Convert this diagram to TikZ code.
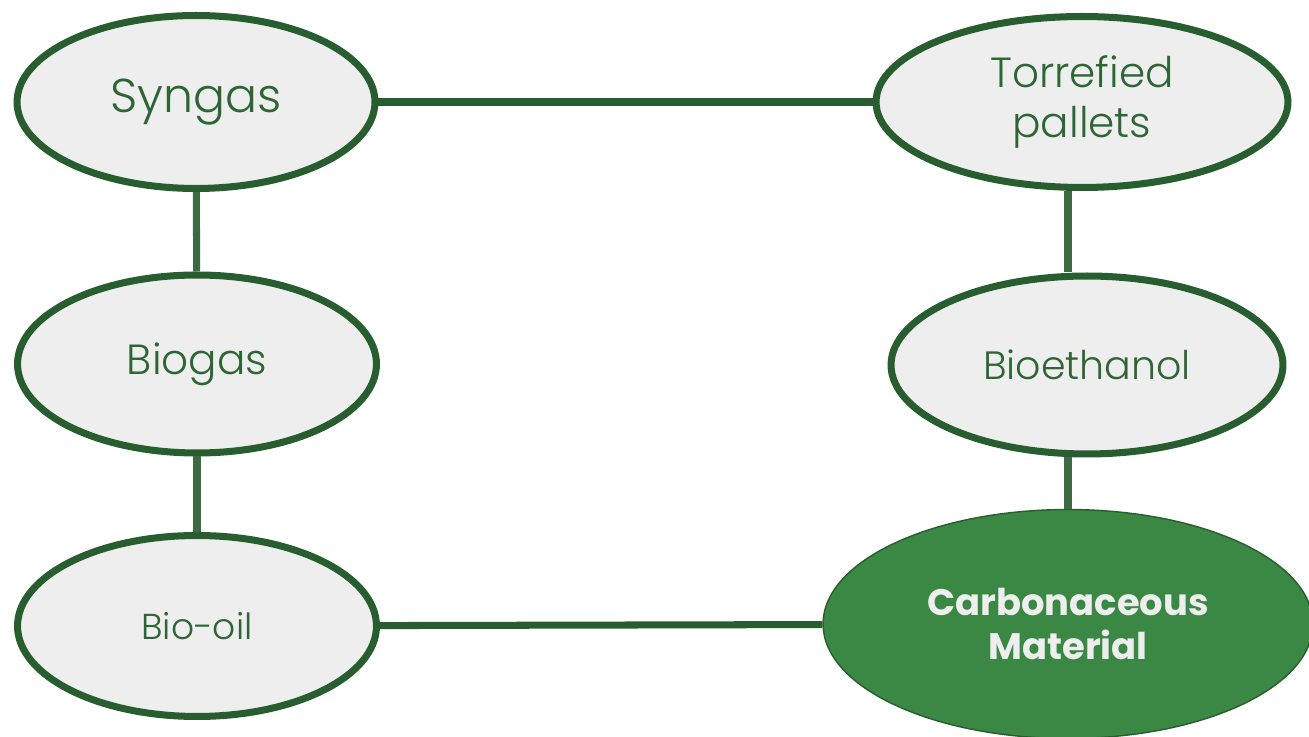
\documentclass[tikz,border=0pt]{standalone}
\usepackage{fontspec}
\setmainfont{Poppins}[UprightFont=* Light, BoldFont=* Bold]
\usetikzlibrary{shapes.geometric}
\definecolor{edgegreen}{HTML}{285E2F}
\definecolor{linkgreen}{HTML}{3C6B43}
\definecolor{textgreen}{HTML}{2D6534}
\definecolor{fillgray}{HTML}{EEEEEE}
\definecolor{boldgreen}{HTML}{3A8843}
\begin{document}
\begin{tikzpicture}[x=0.02cm, y=0.02cm,
    fuel/.style={ellipse, draw=edgegreen, line width=4pt, fill=fillgray,
        text=textgreen, align=center, inner sep=0pt},
    product/.style={ellipse, draw=edgegreen, line width=0.8pt, fill=boldgreen,
        text=fillgray, align=center, inner sep=0pt, font=\fontsize{21}{25}\selectfont\bfseries},
    link/.style={edgegreen, line width=4pt},
    vlink/.style={linkgreen, line width=4pt}]
    \useasboundingbox (0,0) rectangle (1309,737);
    % left column
    \node[fuel, minimum width=7.16cm, minimum height=3.46cm, font=\fontsize{27}{30}\selectfont] (syn) at (196,635) {Syngas};
    \node[fuel, minimum width=7.18cm, minimum height=3.56cm, font=\fontsize{24}{28}\selectfont] (biogas) at (197,373) {Biogas};
    \node[fuel, minimum width=7.18cm, minimum height=3.62cm, font=\fontsize{20.5}{24}\selectfont] (biooil) at (197,111) {Bio-oil};
    % right column
    \node[fuel, minimum width=8.24cm, minimum height=3.42cm, font=\fontsize{24}{29}\selectfont] (tor) at (1082,635) {Torrefied\\pallets};
    \node[fuel, minimum width=7.84cm, minimum height=3.56cm, font=\fontsize{22.5}{26}\selectfont] (bioeth) at (1087,372) {Bioethanol};
    \node[product, minimum width=9.8cm, minimum height=4.58cm] (car) at (1068,113) {Carbonaceous\\Material};
    % connectors
    \draw[link] (syn) -- (tor);
    \draw[link] (biooil) -- (car);
    \draw[vlink] (syn) -- (biogas);
    \draw[vlink] (biogas) -- (biooil);
    \draw[vlink] (tor.south -| car.north) -- (bioeth.north -| car.north);
    \draw[vlink] (bioeth.south -| car.north) -- (car.north);
\end{tikzpicture}
\end{document}
